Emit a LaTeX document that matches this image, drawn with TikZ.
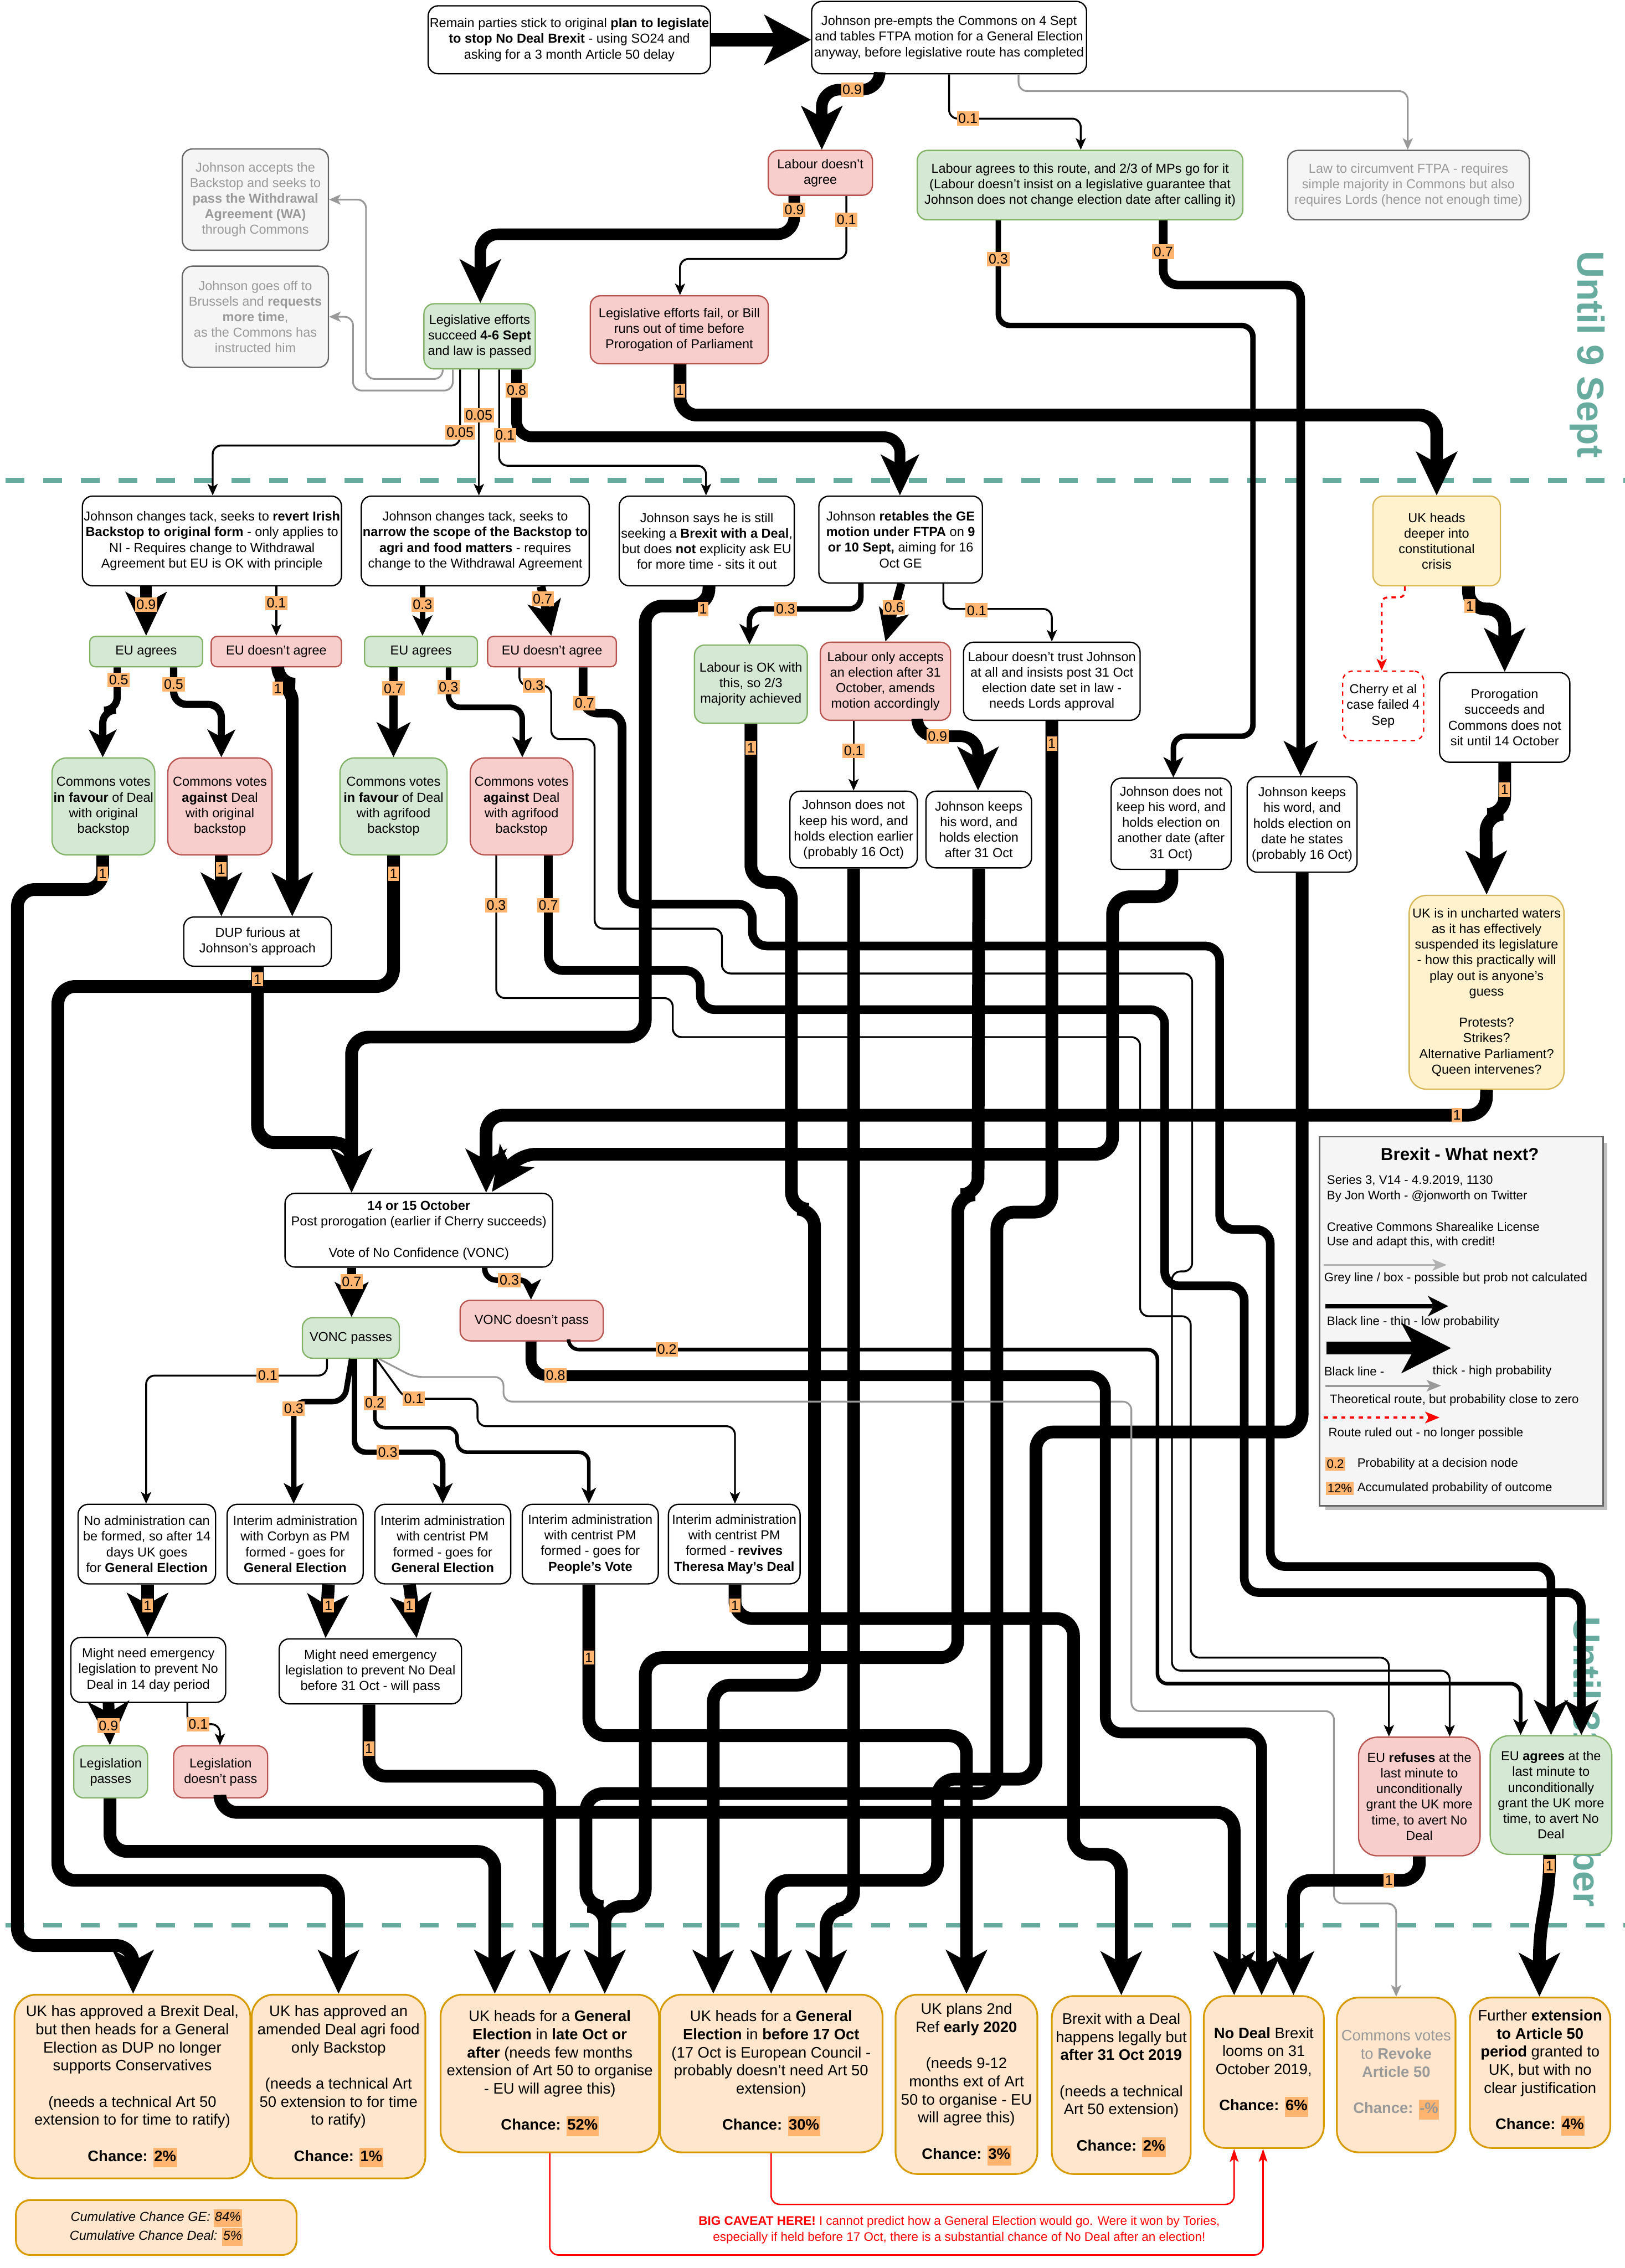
\documentclass[tikz,border=0pt]{standalone}
\usepackage{fontspec}
\setmainfont{Liberation Sans}
\usetikzlibrary{arrows.meta}
\definecolor{gfill}{HTML}{D5E8D4}\definecolor{gdraw}{HTML}{82B366}
\definecolor{rfill}{HTML}{F8CECC}\definecolor{rdraw}{HTML}{B85450}
\definecolor{yfill}{HTML}{FFF2CC}\definecolor{ydraw}{HTML}{D6B656}
\definecolor{ofill}{HTML}{FFE6CC}\definecolor{odraw}{HTML}{D79B00}
\definecolor{lblc}{HTML}{FFB570}\definecolor{tealc}{HTML}{67AB9F}
\definecolor{greyf}{HTML}{F5F5F5}\definecolor{greyd}{HTML}{666666}
\definecolor{greyt}{HTML}{999999}\definecolor{redc}{HTML}{FF0000}
\newcommand\hl[1]{{\setlength{\fboxsep}{0.6pt}\colorbox{lblc}{\strut #1}}}
\tikzset{
 bx/.style={draw, rounded corners=7pt, line width=0.9pt, align=center, inner sep=1pt, font=\fontsize{9}{10.8}\selectfont},
 wbox/.style={bx, fill=white, draw=black},
 gbox/.style={bx, fill=gfill, draw=gdraw},
 rbox/.style={bx, fill=rfill, draw=rdraw},
 ybox/.style={bx, fill=yfill, draw=ydraw},
 greybox/.style={bx, fill=greyf, draw=greyd, text=greyt},
 obox/.style={bx, fill=ofill, draw=odraw, rounded corners=15pt, line width=1.2pt, font=\fontsize{10.5}{12.5}\selectfont},
 sz/.style 2 args={minimum width=#1pt, minimum height=#2pt},
 lbl/.style={fill=lblc, inner xsep=1pt, inner ysep=1.6pt, font=\fontsize{9.6}{10}\selectfont},
 lgt/.style={font=\fontsize{8.5}{10}\selectfont, anchor=west, inner sep=0pt},
 e01/.style={line width=1.3pt, rounded corners=6pt, -{Stealth[length=8pt,width=7pt,inset=2pt]}},
 e02/.style={line width=2.5pt, rounded corners=7pt, -{Stealth[length=11pt,width=10pt,inset=3pt]}},
 e03/.style={line width=3.8pt, rounded corners=8pt, -{Stealth[length=14pt,width=13.5pt,inset=3.5pt]}},
 e05/.style={line width=5pt, rounded corners=9pt, -{Stealth[length=19pt,width=19pt,inset=5pt]}},
 e06/.style={line width=5.5pt, rounded corners=10pt, -{Stealth[length=22pt,width=21pt,inset=5.5pt]}},
 e07/.style={line width=6pt, rounded corners=10pt, -{Stealth[length=24pt,width=23pt,inset=6pt]}},
 e08/.style={line width=7.5pt, rounded corners=11pt, -{Stealth[length=28pt,width=26pt,inset=7pt]}},
 e09/.style={line width=8pt, rounded corners=12pt, -{Stealth[length=30pt,width=28pt,inset=7.5pt]}},
 e10/.style={line width=8.8pt, rounded corners=12pt, -{Stealth[length=30pt,width=28pt,inset=7.5pt]}},
 gr/.style={greyt, line width=1.2pt, rounded corners=6pt, -{Stealth[length=8pt,width=7pt,inset=2pt]}},
}
\begin{document}
\begin{tikzpicture}[x=1pt,y=-1pt]
\fill[white] (0,0) rectangle (1123,1568);
\useasboundingbox (0,0) rectangle (1123,1568);
% period separators
\draw[tealc, line width=3.3pt, dash pattern=on 13pt off 13pt] (4,332) -- (1123,332);
\draw[tealc, line width=3.3pt, dash pattern=on 13pt off 13pt] (4,1331) -- (1123,1331);
\node[rotate=-90, text=tealc, font=\fontsize{26}{26}\selectfont\bfseries] (t9) at (1097,245) {Until 9 Sept};
\node[rotate=-90, text=tealc, font=\fontsize{26}{26}\selectfont\bfseries] (t31) at (1097,1218) {Until 31 October};

% ---------------- nodes
\node[wbox, sz={195}{47}] (A) at (393.5,27.5) {Remain parties stick to original \textbf{plan to legislate}\\\textbf{to stop No Deal Brexit} - using SO24 and\\asking for a 3 month Article 50 delay};
\node[wbox, sz={190}{50}] (B) at (656,26) {Johnson pre-empts the Commons on 4 Sept\\and tables FTPA motion for a General Election\\anyway, before legislative route has completed};
\node[rbox, sz={72}{31}] (C) at (567,119.5) {Labour doesn't\\agree};
\node[gbox, sz={225}{48}] (D) at (746.5,128) {Labour agrees to this route, and 2/3 of MPs go for it\\(Labour doesn't insist on a legislative guarantee that\\Johnson does not change election date after calling it)};
\node[greybox, sz={167}{48}] (E) at (973.5,128) {Law to circumvent FTPA - requires\\simple majority in Commons but also\\requires Lords (hence not enough time)};
\node[greybox, sz={101}{70}] (F) at (176.5,138) {Johnson accepts the\\Backstop and seeks to\\\textbf{pass the Withdrawal}\\\textbf{Agreement (WA)}\\through Commons};
\node[greybox, sz={101}{70}] (G) at (176.5,219) {Johnson goes off to\\Brussels and \textbf{requests}\\\textbf{more time},\\as the Commons has\\instructed him};
\node[gbox, sz={77}{45}] (H) at (331.5,232.5) {Legislative efforts\\succeed \textbf{4-6 Sept}\\and law is passed};
\node[rbox, sz={123}{47}] (I) at (469.5,228) {Legislative efforts fail, or Bill\\runs out of time before\\Prorogation of Parliament};

\node[wbox, sz={179}{62}] (J1) at (146.5,374) {Johnson changes tack, seeks to \textbf{revert Irish}\\\textbf{Backstop to original form} - only applies to\\NI - Requires change to Withdrawal\\Agreement but EU is OK with principle};
\node[wbox, sz={153}{62}] (J2) at (328.5,374) {Johnson changes tack, seeks to\\\textbf{narrow the scope of the Backstop to}\\\textbf{agri and food matters} - requires\\change to the Withdrawal Agreement};
\node[wbox, sz={121}{62}] (J3) at (488.5,374) {Johnson says he is still\\seeking a \textbf{Brexit with a Deal},\\but does \textbf{not} explicity ask EU\\for more time - sits it out};
\node[wbox, sz={113}{60}] (J4) at (622.5,373) {Johnson \textbf{retables the GE}\\\textbf{motion under FTPA} on \textbf{9}\\\textbf{or 10 Sept,} aiming for 16\\Oct GE};
\node[ybox, sz={88}{62}] (K) at (993,374) {UK heads\\deeper into\\constitutional\\crisis};

\node[gbox, sz={78}{21}, rounded corners=4pt] (L1) at (101,450.5) {EU agrees};
\node[rbox, sz={90}{21}, rounded corners=4pt] (L2) at (191,450.5) {EU doesn't agree};
\node[gbox, sz={78}{21}, rounded corners=4pt] (L3) at (291,450.5) {EU agrees};
\node[rbox, sz={89}{21}, rounded corners=4pt] (L4) at (381.5,450.5) {EU doesn't agree};

\node[gbox, sz={71}{67}, rounded corners=10pt] (M1) at (71.5,557.5) {Commons votes\\\textbf{in favour} of Deal\\with original\\backstop};
\node[rbox, sz={72}{67}, rounded corners=10pt] (M2) at (152,557.5) {Commons votes\\\textbf{against} Deal\\with original\\backstop};
\node[gbox, sz={74}{67}, rounded corners=10pt] (M3) at (272,557.5) {Commons votes\\\textbf{in favour} of Deal\\with agrifood\\backstop};
\node[rbox, sz={71}{67}, rounded corners=10pt] (M4) at (360.5,557.5) {Commons votes\\\textbf{against} Deal\\with agrifood\\backstop};
\node[wbox, sz={102}{34}] (DUP) at (178,651) {DUP furious at\\Johnson's approach};

\node[gbox, sz={78}{54}] (P1) at (519,473) {Labour is OK with\\this, so 2/3\\majority achieved};
\node[rbox, sz={90}{54}] (P2) at (612,471) {Labour only accepts\\an election after 31\\October, amends\\motion accordingly};
\node[wbox, sz={122}{54}] (P3) at (727,471) {Labour doesn't trust Johnson\\at all and insists post 31 Oct\\election date set in law -\\needs Lords approval};
\node[bx, fill=white, draw=redc, dashed, sz={56}{48}] (Q1) at (956,488) {Cherry et al\\case failed 4\\Sep};
\node[wbox, sz={90}{62}] (Q2) at (1040,496) {Prorogation\\succeeds and\\Commons does not\\sit until 14 October};
\node[ybox, sz={107}{134}, rounded corners=12pt] (Q3) at (1027.5,686) {UK is in uncharted waters\\as it has effectively\\suspended its legislature\\- how this practically will\\play out is anyone's\\guess\\[10.8pt]Protests?\\Strikes?\\Alternative Parliament?\\Queen intervenes?};

\node[wbox, sz={88}{53}] (R1) at (590,573.5) {Johnson does not\\keep his word, and\\holds election earlier\\(probably 16 Oct)};
\node[wbox, sz={73}{53}] (R2) at (676.5,573.5) {Johnson keeps\\his word, and\\holds election\\after 31 Oct};
\node[wbox, sz={83}{63}] (R3) at (809.5,569.5) {Johnson does not\\keep his word, and\\holds election on\\another date (after\\31 Oct)};
\node[wbox, sz={76}{66}] (R4) at (900,570) {Johnson keeps\\his word, and\\holds election on\\date he states\\(probably 16 Oct)};

\node[wbox, sz={185}{51}] (VB) at (289.5,850.5) {\textbf{14 or 15 October}\\Post prorogation (earlier if Cherry succeeds)\\[10.8pt]Vote of No Confidence (VONC)};
\node[gbox, sz={67}{28}] (VP) at (242.5,925) {VONC passes};
\node[rbox, sz={99}{28}] (VN) at (367.5,913) {VONC doesn't pass};

\node[wbox, sz={95}{55}] (N1) at (101.5,1067.5) {No administration can\\be formed, so after 14\\days UK goes\\for \textbf{General Election}};
\node[wbox, sz={94}{55}] (N2) at (204,1067.5) {Interim administration\\with Corbyn as PM\\formed - goes for\\\textbf{General Election}};
\node[wbox, sz={94}{55}] (N3) at (306,1067.5) {Interim administration\\with centrist PM\\formed - goes for\\\textbf{General Election}};
\node[wbox, sz={94}{55}] (N4) at (408,1067.5) {Interim administration\\with centrist PM\\formed - goes for\\\textbf{People's Vote}};
\node[wbox, sz={91}{55}] (N5) at (507.5,1067.5) {Interim administration\\with centrist PM\\formed - \textbf{revives}\\\textbf{Theresa May's Deal}};
\node[wbox, sz={107}{45}] (S1) at (102.5,1154.5) {Might need emergency\\legislation to prevent No\\Deal in 14 day period};
\node[wbox, sz={126}{45}] (S2) at (256,1155.5) {Might need emergency\\legislation to prevent No Deal\\before 31 Oct - will pass};
\node[gbox, sz={51}{36}] (T1) at (76.5,1225) {Legislation\\passes};
\node[rbox, sz={65}{36}] (T2) at (152.5,1225) {Legislation\\doesn't pass};
\node[rbox, sz={84}{82}, rounded corners=13pt] (U1) at (981,1242) {EU \textbf{refuses} at the\\last minute to\\unconditionally\\grant the UK more\\time, to avert No\\Deal};
\node[gbox, sz={84}{82}, rounded corners=13pt] (U2) at (1072,1241) {EU \textbf{agrees} at the\\last minute to\\unconditionally\\grant the UK more\\time, to avert No\\Deal};

% outcomes
\node[obox, sz={163}{127}] (O1) at (91.5,1442.5) {UK has approved a Brexit Deal,\\but then heads for a General\\Election as DUP no longer\\supports Conservatives\\[12.5pt](needs a technical Art 50\\extension to for time to ratify)\\[12.5pt]\textbf{Chance: \hl{2\%}}};
\node[obox, sz={120}{127}] (O2) at (234,1442.5) {UK has approved an\\amended Deal agri food\\only Backstop\\[12.5pt](needs a technical Art\\50 extension to for time\\to ratify)\\[12.5pt]\textbf{Chance: \hl{1\%}}};
\node[obox, sz={151}{109}] (O3) at (380,1433.5) {UK heads for a \textbf{General}\\\textbf{Election} in \textbf{late Oct or}\\\textbf{after} (needs few months\\extension of Art 50 to organise\\- EU will agree this)\\[12.5pt]\textbf{Chance: \hl{52\%}}};
\node[obox, sz={154}{109}] (O4) at (533,1433.5) {UK heads for a \textbf{General}\\\textbf{Election} in \textbf{before 17 Oct}\\(17 Oct is European Council -\\probably doesn't need Art 50\\extension)\\[12.5pt]\textbf{Chance: \hl{30\%}}};
\node[obox, sz={98}{124}] (O5) at (668,1441) {UK plans 2nd\\Ref \textbf{early 2020}\\[12.5pt](needs 9-12\\months ext of Art\\50 to organise - EU\\will agree this)\\[12.5pt]\textbf{Chance: \hl{3\%}}};
\node[obox, sz={96}{123}] (O6) at (775,1441.5) {Brexit with a Deal\\happens legally but\\\textbf{after 31 Oct 2019}\\[12.5pt](needs a technical\\Art 50 extension)\\[12.5pt]\textbf{Chance: \hl{2\%}}};
\node[obox, sz={83}{105}] (O7) at (873.5,1432.5) {\textbf{No Deal} Brexit\\looms on 31\\October 2019,\\[12.5pt]\textbf{Chance: \hl{6\%}}};
\node[obox, sz={82}{107}, text=greyt] (O8) at (965,1434.5) {Commons votes\\to \textbf{Revoke}\\\textbf{Article 50}\\[12.5pt]\textbf{Chance: \hl{-\%}}};
\node[obox, sz={97}{104}] (O9) at (1064.5,1433) {Further \textbf{extension}\\\textbf{to Article 50}\\\textbf{period} granted to\\UK, but with no\\clear justification\\[12.5pt]\textbf{Chance: \hl{4\%}}};
\node[obox, sz={194}{38}, rounded corners=10pt, font=\fontsize{9}{11}\selectfont\itshape] (O10) at (108,1540) {Cumulative Chance GE: \hl{84\%}\\Cumulative Chance Deal: \hl{5\%}};

% ---------------- connectors
\draw[line width=9pt, -{Stealth[length=32pt,width=34pt,inset=8pt]}] (A.east) -- (B.west |- A.east);
\draw[e09] (B.south -| 608,0) -- (608,62) -- (568,62) -- (C.north -| 568,0);
\draw[e01] (B.south -| 656,0) -- (656,82) -- (747,82) -- (D.north -| 747,0);
\draw[gr] (B.south -| 704,0) -- (704,63) -- (973,63) -- (E.north -| 973,0);
\draw[e09] (C.south -| 549,0) -- (549,162) -- (332,162) -- (H.north -| 332,0);
\draw[e01] (C.south -| 585,0) -- (585,179) -- (470,179) -- (I.north -| 470,0);
\draw[gr] (H.south -| 306,0) -- (306,262) -- (253,262) -- (253,138) -- (F.east);
\draw[gr] (H.south -| 313,0) -- (313,270) -- (244,270) -- (244,219) -- (G.east);
\draw[e10] (I.south -| 470,0) -- (470,287) -- (993,287) -- (K.north);
\draw[e03] (D.south -| 690,0) -- (690,225) -- (866,225) -- (866,509) -- (811,509) -- (R3.north -| 811,0);
\draw[e07] (D.south -| 804,0) -- (804,197) -- (899,197) -- (R4.north -| 899,0);
\draw[e08] (H.south -| 357,0) -- (357,302) -- (622,302) -- (J4.north -| 622,0);
\draw[e01] (H.south -| 345,0) -- (345,322) -- (488,322) -- (J3.north -| 488,0);
\draw[e01] (H.south -| 331,0) -- (J2.north -| 331,0);
\draw[e01] (H.south -| 318,0) -- (318,308) -- (147,308) -- (J1.north -| 147,0);

\draw[e09] (J1.south -| 101,0) -- (L1.north -| 101,0);
\draw[e01] (J1.south -| 191,0) -- (L2.north -| 191,0);
\draw[e03] (J2.south -| 292,0) -- (L3.north -| 292,0);
\draw[e07] (J2.south -| 374,0) -- (L4.north -| 381,0);
\draw[e10] (J3.south -| 490,0) -- (490,419) -- (446,419) -- (446,717) -- (243,717) -- (VB.north -| 243,0);
\draw[e03] (J4.south -| 595,0) -- (595,421) -- (518,421) -- (P1.north -| 518,0);
\draw[e06] (J4.south -| 623,0) -- (P2.north -| 612,0);
\draw[e01] (J4.south -| 652,0) -- (652,421) -- (727,421) -- (P3.north -| 727,0);
\draw[e10] (K.south -| 1015,0) -- (1015,421) -- (1040,421) -- (Q2.north -| 1040,0);
\draw[redc, dashed, line width=1.3pt, rounded corners=4pt, -{Stealth[length=8pt,width=7pt,inset=2pt]}] (K.south -| 971,0) -- (971,413) -- (955,413) -- (Q1.north -| 955,0);

\draw[e05] (L1.south -| 81,0) -- (81,491) -- (71,491) -- (M1.north -| 71,0);
\draw[e05] (L1.south -| 120,0) -- (120,487) -- (153,487) -- (M2.north -| 153,0);
\draw[e10] (L2.south -| 192,0) -- (192,473) -- (202,473) -- (DUP.north -| 202,0);
\draw[e07] (L3.south -| 272,0) -- (M3.north -| 272,0);
\draw[e03] (L3.south -| 310,0) -- (310,489) -- (361,489) -- (M4.north -| 361,0);
\draw[e01] (L4.south -| 359,0) -- (359,474) -- (381,474) -- (381,511) -- (411,511) -- (411,642) -- (499,642) -- (499,673) -- (824,673) -- (824,879) -- (810,879) -- (810,1155) -- (1002,1155) -- (U1.north -| 1002,0);
\draw[e07] (L4.south -| 403,0) -- (403,493) -- (430,493) -- (430,625) -- (520,625) -- (520,654) -- (843,654) -- (843,850) -- (878,850) -- (878,1083) -- (1072,1083) -- (U2.north -| 1072,0);

\draw[e10] (M1.south -| 71,0) -- (71,615) -- (12,615) -- (12,1345) -- (92,1345) -- (O1.north -| 92,0);
\draw[e10] (M2.south -| 153,0) -- (DUP.north -| 153,0);
\draw[e10] (M3.south -| 272,0) -- (272,682) -- (40,682) -- (40,1300) -- (234,1300) -- (O2.north -| 234,0);
\draw[e01] (M4.south -| 343,0) -- (343,690) -- (465,690) -- (465,717) -- (788,717) -- (788,910) -- (823,910) -- (823,1146) -- (960,1146) -- (U1.north -| 960,0);
\draw[e07] (M4.south -| 379,0) -- (379,671) -- (484,671) -- (484,698) -- (805,698) -- (805,889) -- (860,889) -- (860,1101) -- (1093,1101) -- (U2.north -| 1093,0);
\draw[e10] (DUP.south) -- (178,790) -- (243,790) -- (VB.north -| 243,0);

\draw[e01] (P2.south -| 590,0) -- (R1.north -| 590,0);
\draw[e09] (P2.south -| 634,0) -- (634,509) -- (676,509) -- (R2.north -| 676,0);
\draw[e10] (Q2.south) -- (1040,563) -- (1027,563) -- (Q3.north);
\draw[e10] (Q3.south) -- (1027,771) -- (336,771) -- (VB.north -| 336,0);
\draw[e10] (R3.south -| 810,0) -- (810,620) -- (769,620) -- (769,798) -- (358,798) -- (340,824);

\draw[e10] (P1.south) -- (519,610) -- (547,610) -- (547,836) -- (563,836) -- (563,1165) -- (493,1165) -- (O4.north -| 493,0);
\draw[e10] (R1.south) -- (590,1320) -- (571,1320) -- (O4.north -| 571,0);
\draw[e10] (R4.south) -- (900,990) -- (716,990) -- (716,1230) -- (648,1230) -- (648,1300) -- (533,1300) -- (O4.north -| 533,0);
\draw[e10] (R2.south) -- (676,826) -- (662,826) -- (662,1146) -- (446,1146) -- (446,1318) -- (418,1318) -- (O3.north -| 418,0);
\draw[e10] (P3.south) -- (727,838) -- (689,838) -- (689,1240) -- (405,1240) -- (405,1318) -- (418,1318) -- (O3.north -| 418,0);

\draw[e07] (VB.south -| 243,0) -- (VP.north -| 243,0);
\draw[e03] (VB.south -| 335,0) -- (335,885) -- (367,885) -- (VN.north -| 367,0);
\draw[e01] (VP.south -| 226,0) -- (226,951) -- (101,951) -- (N1.north -| 101,0);
\draw[e03] (VP.south -| 243,0) -- (238,969) -- (203,969) -- (N2.north -| 203,0);
\draw[e03] (VP.south -| 245,0) -- (245,1004) -- (306,1004) -- (N3.north -| 306,0);
\draw[e02] (VP.south -| 259,0) -- (259,987) -- (316,987) -- (316,1004) -- (407,1004) -- (N4.north -| 407,0);
\draw[e01] (VP.south -| 260,0) -- (280,967) -- (330,967) -- (330,986) -- (508,986) -- (N5.north -| 508,0);
\draw[gr] (VP.south -| 262,0) -- (286,952) -- (348,952) -- (348,969) -- (782,969) -- (782,1183) -- (922,1183) -- (922,1316) -- (965,1316) -- (O8.north -| 965,0);
\draw[e08] (VN.south -| 367,0) -- (367,951) -- (764,951) -- (764,1198) -- (872,1198) -- (O7.north -| 872,0);
\draw[e02] (VN.south -| 393,0) -- (393,933) -- (800,933) -- (800,1164) -- (1051,1164) -- (U2.north -| 1051,0);

\draw[e10] (N1.south -| 102,0) -- (S1.north -| 102,0);
\draw[e10] (N2.south -| 227,0) -- (S2.north -| 225,0);
\draw[e10] (N3.south -| 283,0) -- (S2.north -| 288,0);
\draw[e10] (N4.south -| 407,0) -- (407,1200) -- (668,1200) -- (O5.north -| 668,0);
\draw[e10] (N5.south -| 508,0) -- (508,1119) -- (742,1119) -- (742,1282) -- (775,1282) -- (O6.north -| 775,0);
\draw[e09] (S1.south -| 75,0) -- (T1.north -| 76,0);
\draw[e01] (S1.south -| 129.5,0) -- (129.5,1192) -- (152,1192) -- (T2.north -| 152,0);
\draw[e10] (S2.south -| 255,0) -- (255,1228) -- (380,1228) -- (O3.north -| 380,0);
\draw[e10] (T1.south -| 76,0) -- (76,1280) -- (342,1280) -- (O3.north -| 342,0);
\draw[e10] (T2.south -| 152,0) -- (152,1253) -- (853,1253) -- (O7.north -| 853,0);
\draw[e10] (U1.south -| 981,0) -- (981,1300) -- (894,1300) -- (O7.north -| 894,0);
\draw[e10] (U2.south -| 1071,0) -- (1071,1300) -- (1064,1340) -- (O9.north -| 1064,0);

\draw[redc, line width=1pt, rounded corners=6pt, -{Stealth[length=9pt,width=6pt,inset=2pt]}] (O3.south) -- (380,1559) -- (873,1559) -- (O7.south -| 873,0);
\draw[redc, line width=1pt, rounded corners=6pt, -{Stealth[length=9pt,width=6pt,inset=2pt]}] (O4.south) -- (533,1524) -- (853,1524) -- (O7.south -| 853,0);
\node[text=redc, font=\fontsize{8.6}{11}\selectfont, align=center, fill=white, inner sep=1pt] (cav) at (663,1541.5) {\textbf{BIG CAVEAT HERE!} I cannot predict how a General Election would go. Were it won by Tories,\\especially if held before 17 Oct, there is a substantial chance of No Deal after an election!};

% ---------------- probability labels
\node[lbl] (b1) at (589,62) {0.9};
\node[lbl] (b2) at (669,82) {0.1};
\node[lbl] (c1) at (549,145) {0.9};
\node[lbl] (c2) at (585,152) {0.1};
\node[lbl] (d1) at (690,179) {0.3};
\node[lbl] (d2) at (804,174) {0.7};
\node[lbl] (h1) at (357,270) {0.8};
\node[lbl] (h2) at (331,287) {0.05};
\node[lbl] (h3) at (318,299) {0.05};
\node[lbl] (h4) at (349,301) {0.1};
\node[lbl] (i1) at (470,270) {1};
\node[lbl] (j1) at (101,418) {0.9};
\node[lbl] (j2) at (191,417) {0.1};
\node[lbl] (j3) at (292,418) {0.3};
\node[lbl] (j4) at (375,414) {0.7};
\node[lbl] (j5) at (486,421) {1};
\node[lbl] (j6) at (543,421) {0.3};
\node[lbl] (j7) at (618,420) {0.6};
\node[lbl] (j8) at (675,422) {0.1};
\node[lbl] (k1) at (1016,419) {1};
\node[lbl] (m1) at (82,470) {0.5};
\node[lbl] (m2) at (120,473) {0.5};
\node[lbl] (m3) at (192,476) {1};
\node[lbl] (m4) at (272,476) {0.7};
\node[lbl] (m5) at (310,475) {0.3};
\node[lbl] (m6) at (369,474) {0.3};
\node[lbl] (m7) at (404,486) {0.7};
\node[lbl] (p1) at (519,517) {1};
\node[lbl] (p2) at (590,519) {0.1};
\node[lbl] (p3) at (648,509) {0.9};
\node[lbl] (p4) at (727,514) {1};
\node[lbl] (q1) at (1040,546) {1};
\node[lbl] (n1) at (71,604) {1};
\node[lbl] (n2) at (153,601) {1};
\node[lbl] (n3) at (272,604) {1};
\node[lbl] (n4) at (343,626) {0.3};
\node[lbl] (n5) at (379,626) {0.7};
\node[lbl] (n6) at (178,677) {1};
\node[lbl] (q2) at (1007,771) {1};
\node[lbl] (v1) at (243,886) {0.7};
\node[lbl] (v2) at (352,885) {0.3};
\node[lbl] (v3) at (461,933) {0.2};
\node[lbl] (v4) at (384,951) {0.8};
\node[lbl] (v5) at (185,951) {0.1};
\node[lbl] (v6) at (203,974) {0.3};
\node[lbl] (v7) at (268,1004) {0.3};
\node[lbl] (v8) at (259,970) {0.2};
\node[lbl] (v9) at (286,967) {0.1};
\node[lbl] (a1) at (102,1110) {1};
\node[lbl] (a2) at (227,1110) {1};
\node[lbl] (a3) at (283,1110) {1};
\node[lbl] (a4) at (407,1146) {1};
\node[lbl] (a5) at (508,1110) {1};
\node[lbl] (s1) at (75,1193) {0.9};
\node[lbl] (s2) at (137,1192) {0.1};
\node[lbl] (s3) at (255,1209) {1};
\node[lbl] (u1) at (960,1300) {1};
\node[lbl] (u2) at (1071,1290) {1};

% ---------------- legend
\fill[black!25] (916,790) rectangle (1111,1044);
\node[draw=greyd, fill=greyf, line width=0.9pt, minimum width=196pt, minimum height=255pt, inner sep=0pt] (leg) at (1010,913.5) {};
\node[font=\fontsize{12}{14}\selectfont\bfseries] (lgT) at (1009,798) {Brexit - What next?};
\node[lgt] (lg1) at (917,816) {Series 3, V14 - 4.9.2019, 1130};
\node[lgt] (lg2) at (917,827) {By Jon Worth - @jonworth on Twitter};
\node[lgt] (lg3) at (917,848) {Creative Commons Sharealike License};
\node[lgt] (lg4) at (917,859) {Use and adapt this, with credit!};
\draw[black!30, line width=1pt, -{Stealth[length=10pt,width=8pt,inset=2.5pt]}] (915,874.5) -- (1000,874.5);
\node[lgt] (lg5) at (915,884) {Grey line / box - possible but prob not calculated};
\draw[line width=3pt, -{Stealth[length=14pt,width=14pt,inset=4pt]}] (916,903) -- (1001,903);
\node[lgt] (lg6) at (917,914) {Black line - thin - low probability};
\draw[line width=9pt, -{Stealth[length=34pt,width=34pt,inset=9pt]}] (917,932) -- (1003,932);
\node[lgt] (lg7) at (915,948) {Black line -};
\node[lgt] (lg8) at (990,948) {thick - high probability};
\draw[greyt, line width=1.5pt, -{Stealth[length=10pt,width=8pt,inset=2.5pt]}] (916,958) -- (996,958);
\node[lgt] (lg9) at (919,968) {Theoretical route, but probability close to zero};
\draw[redc, dashed, line width=1.3pt, -{Stealth[length=10pt,width=8pt,inset=2.5pt]}] (915,980) -- (995,980);
\node[lgt] (lg10) at (918,991) {Route ruled out - no longer possible};
\node[lbl, font=\fontsize{8.5}{10}\selectfont] (lg11) at (923,1012) {0.2};
\node[lgt] (lg12) at (938,1012) {Probability at a decision node};
\node[lbl, font=\fontsize{8.5}{10}\selectfont] (lg13) at (926,1029) {12\%};
\node[lgt] (lg14) at (938,1029) {Accumulated probability of outcome};
\end{tikzpicture}
\end{document}
